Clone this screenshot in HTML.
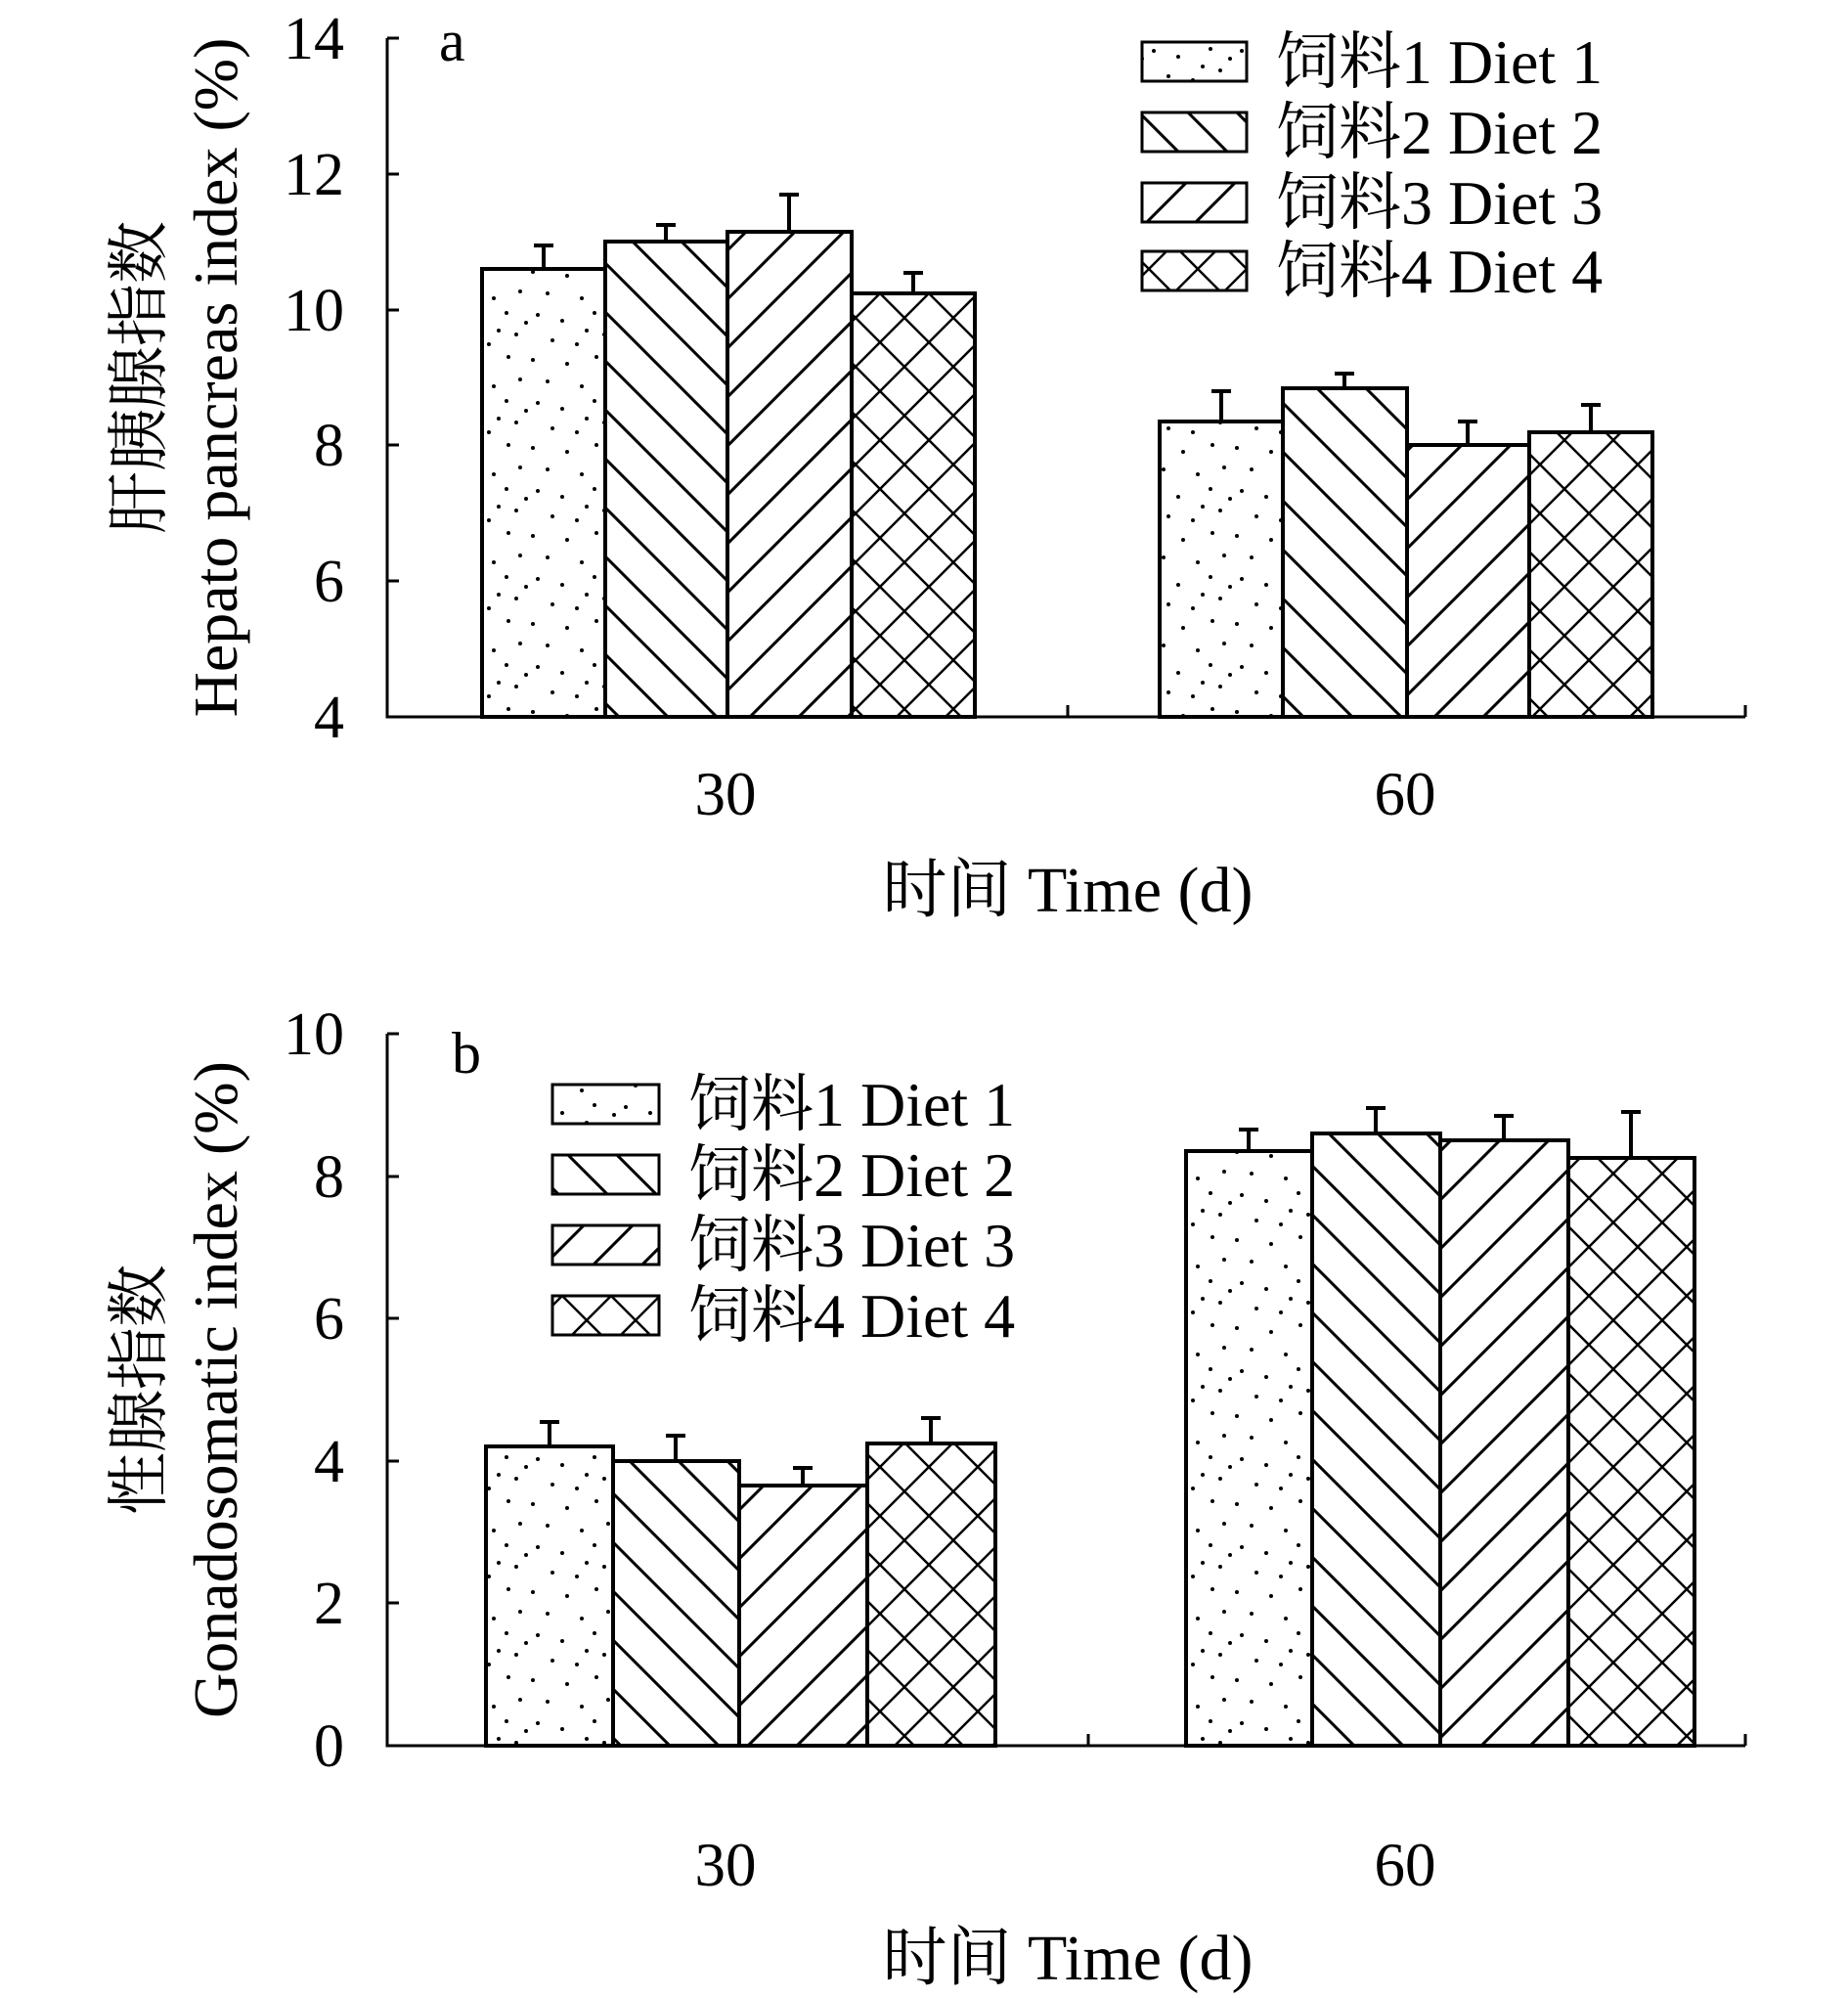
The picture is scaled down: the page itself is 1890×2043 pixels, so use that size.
<!DOCTYPE html>
<html><head><meta charset="utf-8"><style>
html,body{margin:0;padding:0;background:#fff}
svg{display:block}
text{font-family:"Liberation Serif","Noto Serif CJK SC","Noto Sans CJK SC",serif;fill:#000}
</style></head><body>
<svg width="1890" height="2043" viewBox="0 0 1890 2043" xmlns="http://www.w3.org/2000/svg">
<defs>
<pattern id="dots" width="90" height="90" patternUnits="userSpaceOnUse">
<g fill="#000">
<circle cx="5" cy="8" r="2"/><circle cx="40" cy="12" r="2"/><circle cx="70" cy="5" r="2"/>
<circle cx="20" cy="30" r="2"/><circle cx="55" cy="35" r="2"/><circle cx="82" cy="28" r="2"/>
<circle cx="10" cy="52" r="2"/><circle cx="35" cy="58" r="2"/><circle cx="68" cy="50" r="2"/>
<circle cx="25" cy="78" r="2"/><circle cx="50" cy="82" r="2"/><circle cx="78" cy="72" r="2"/>
<circle cx="88" cy="60" r="2"/><circle cx="60" cy="68" r="2"/>
</g></pattern>
<pattern id="back" width="50" height="50" patternUnits="userSpaceOnUse">
<path d="M-5,-5 L55,55 M-5,45 L5,55 M45,-5 L55,5" stroke="#000" stroke-width="3"/></pattern>
<pattern id="fwd" width="50" height="50" patternUnits="userSpaceOnUse">
<path d="M-5,55 L55,-5 M-5,5 L5,-5 M45,55 L55,45" stroke="#000" stroke-width="3"/></pattern>
<pattern id="cross" width="50" height="50" patternUnits="userSpaceOnUse">
<path d="M-5,-5 L55,55 M-5,45 L5,55 M45,-5 L55,5 M-5,55 L55,-5 M-5,5 L5,-5 M45,55 L55,45" stroke="#000" stroke-width="2.5"/></pattern>
</defs>

<!-- Panel a -->
<g stroke="#000" stroke-width="3" fill="none">
<path d="M396,39 V733 H1785"/>
<path d="M396,39 H408 M396,178 H408 M396,317 H408 M396,455 H408 M396,594 H408"/>
<path d="M1092,733 V721 M1785,733 V721"/>
</g>
<g font-size="62" text-anchor="end">
<text x="352" y="60">14</text><text x="352" y="199">12</text><text x="352" y="338">10</text>
<text x="352" y="476">8</text><text x="352" y="615">6</text><text x="352" y="754">4</text>
</g>
<text x="449" y="62" font-size="60">a</text>
<g stroke="#000" stroke-width="4">
<rect x="493" y="275" width="126" height="458" fill="url(#dots)"/>
<rect x="619" y="247" width="125" height="486" fill="url(#back)"/>
<rect x="744" y="237" width="127" height="496" fill="url(#fwd)"/>
<rect x="871" y="300" width="126" height="433" fill="url(#cross)"/>
<rect x="1186" y="431" width="126" height="302" fill="url(#dots)"/>
<rect x="1312" y="397" width="127" height="336" fill="url(#back)"/>
<rect x="1439" y="455" width="125" height="278" fill="url(#fwd)"/>
<rect x="1564" y="442" width="126" height="291" fill="url(#cross)"/>
<path fill="none" d="M556,275 V251 M546,251 H566 M681,247 V230 M671,230 H691 M807,237 V199 M797,199 H817 M934,300 V279 M924,279 H944 M1249,431 V400 M1239,400 H1259 M1375,397 V382 M1365,382 H1385 M1501,455 V431 M1491,431 H1511 M1627,442 V414 M1617,414 H1637"/>
</g>
<g font-size="63" text-anchor="middle">
<text x="742" y="833">30</text><text x="1437" y="833">60</text>
</g>
<text x="1092" y="932" font-size="66" text-anchor="middle">时间 Time (d)</text>
<g font-size="64" text-anchor="middle">
<text transform="translate(164,386) rotate(-90)">肝胰腺指数</text>
<text transform="translate(242,386) rotate(-90)">Hepato pancreas index (%)</text>
</g>
<g stroke="#000" stroke-width="3">
<rect x="1168" y="43" width="107" height="40" fill="url(#dots)"/>
<rect x="1168" y="115" width="107" height="40" fill="url(#back)"/>
<rect x="1168" y="187" width="107" height="40" fill="url(#fwd)"/>
<rect x="1168" y="257" width="107" height="40" fill="url(#cross)"/>
</g>
<g font-size="64">
<text x="1305" y="85">饲料1 Diet 1</text><text x="1305" y="157">饲料2 Diet 2</text>
<text x="1305" y="229">饲料3 Diet 3</text><text x="1305" y="299">饲料4 Diet 4</text>
</g>

<!-- Panel b -->
<g stroke="#000" stroke-width="3" fill="none">
<path d="M396,1057 V1785 H1785"/>
<path d="M396,1057 H408 M396,1203 H408 M396,1348 H408 M396,1494 H408 M396,1639 H408"/>
<path d="M1113,1785 V1773 M1785,1785 V1773"/>
</g>
<g font-size="62" text-anchor="end">
<text x="352" y="1078">10</text><text x="352" y="1224">8</text><text x="352" y="1369">6</text>
<text x="352" y="1515">4</text><text x="352" y="1660">2</text><text x="352" y="1806">0</text>
</g>
<text x="462" y="1097" font-size="60">b</text>
<g stroke="#000" stroke-width="4">
<rect x="497" y="1479" width="130" height="306" fill="url(#dots)"/>
<rect x="627" y="1494" width="129" height="291" fill="url(#back)"/>
<rect x="756" y="1519" width="131" height="266" fill="url(#fwd)"/>
<rect x="887" y="1476" width="131" height="309" fill="url(#cross)"/>
<rect x="1213" y="1177" width="129" height="608" fill="url(#dots)"/>
<rect x="1342" y="1159" width="131" height="626" fill="url(#back)"/>
<rect x="1473" y="1166" width="131" height="619" fill="url(#fwd)"/>
<rect x="1604" y="1184" width="129" height="601" fill="url(#cross)"/>
<path fill="none" d="M562,1479 V1454 M552,1454 H572 M691,1494 V1468 M681,1468 H701 M821,1519 V1501 M811,1501 H831 M952,1476 V1450 M942,1450 H962 M1277,1177 V1155 M1267,1155 H1287 M1407,1159 V1133 M1397,1133 H1417 M1538,1166 V1141 M1528,1141 H1548 M1668,1184 V1137 M1658,1137 H1678"/>
</g>
<g font-size="63" text-anchor="middle">
<text x="742" y="1928">30</text><text x="1437" y="1928">60</text>
</g>
<text x="1092" y="2024" font-size="66" text-anchor="middle">时间 Time (d)</text>
<g font-size="64" text-anchor="middle">
<text transform="translate(164,1421) rotate(-90)">性腺指数</text>
<text transform="translate(242,1421) rotate(-90)">Gonadosomatic index (%)</text>
</g>
<g stroke="#000" stroke-width="3">
<rect x="565" y="1109" width="109" height="40" fill="url(#dots)"/>
<rect x="565" y="1181" width="109" height="40" fill="url(#back)"/>
<rect x="565" y="1253" width="109" height="40" fill="url(#fwd)"/>
<rect x="565" y="1325" width="109" height="40" fill="url(#cross)"/>
</g>
<g font-size="64">
<text x="704" y="1151">饲料1 Diet 1</text><text x="704" y="1223">饲料2 Diet 2</text>
<text x="704" y="1295">饲料3 Diet 3</text><text x="704" y="1367">饲料4 Diet 4</text>
</g>
</svg>
</body></html>
